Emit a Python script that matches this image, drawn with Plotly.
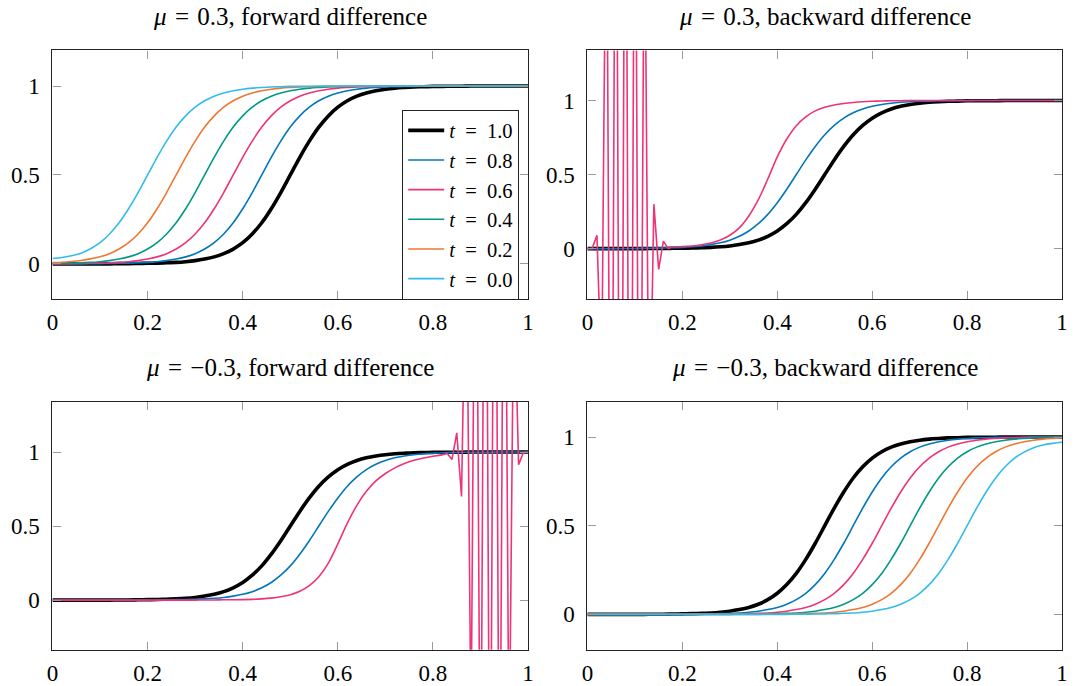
import plotly.graph_objects as go

# ---------------- data ----------------
x = [0.00, 0.02, 0.04, 0.06, 0.08, 0.10, 0.12, 0.14, 0.16, 0.18, 0.20, 0.22, 0.24, 0.26, 0.28,
     0.30, 0.32, 0.34, 0.36, 0.38, 0.40, 0.42, 0.44, 0.46, 0.48, 0.50, 0.52, 0.54, 0.56, 0.58,
     0.60, 0.62, 0.64, 0.66, 0.68, 0.70, 0.72, 0.74, 0.76, 0.78, 0.80, 0.82, 0.84, 0.86, 0.88,
     0.90, 0.92, 0.94, 0.96, 0.98, 1.00]

# mu = 0.3, forward difference
tl_t10 = [0, 0, 0, 0, 0, 0, 0, 0.001, 0.001, 0.002, 0.003, 0.004, 0.006, 0.008, 0.012, 0.018,
          0.027, 0.039, 0.057, 0.083, 0.119, 0.168, 0.231, 0.310, 0.401, 0.500, 0.599, 0.690,
          0.769, 0.832, 0.881, 0.917, 0.943, 0.961, 0.973, 0.982, 0.988, 0.992, 0.995, 0.996,
          0.998, 0.998, 0.999, 0.999, 1, 1, 1, 1, 1, 1, 1]
tl_t08 = [0, 0, 0, 0, 0.001, 0.001, 0.002, 0.003, 0.004, 0.006, 0.008, 0.012, 0.018, 0.027,
          0.039, 0.057, 0.083, 0.119, 0.168, 0.231, 0.310, 0.401, 0.500, 0.599, 0.690, 0.769,
          0.832, 0.881, 0.917, 0.943, 0.961, 0.973, 0.982, 0.988, 0.992, 0.995, 0.996, 0.998,
          0.998, 0.999, 0.999, 1, 1, 1, 1, 1, 1, 1, 1, 1, 1]
tl_t06 = [0, 0.001, 0.001, 0.002, 0.003, 0.004, 0.006, 0.008, 0.012, 0.018, 0.027, 0.039,
          0.057, 0.083, 0.119, 0.168, 0.231, 0.310, 0.401, 0.500, 0.599, 0.690, 0.769, 0.832,
          0.881, 0.917, 0.943, 0.961, 0.973, 0.982, 0.988, 0.992, 0.995, 0.996, 0.998, 0.998,
          0.999, 0.999, 1, 1, 1, 1, 1, 1, 1, 1, 1, 1, 1, 1, 1]
tl_t04 = [0.002, 0.003, 0.004, 0.006, 0.008, 0.012, 0.018, 0.027, 0.039, 0.057, 0.083, 0.119,
          0.168, 0.231, 0.310, 0.401, 0.500, 0.599, 0.690, 0.769, 0.832, 0.881, 0.917, 0.943,
          0.961, 0.973, 0.982, 0.988, 0.992, 0.995, 0.996, 0.998, 0.998, 0.999, 0.999,
          1, 1, 1, 1, 1, 1, 1, 1, 1, 1, 1, 1, 1, 1, 1, 1]
tl_t02 = [0.007, 0.009, 0.013, 0.019, 0.028, 0.040, 0.057, 0.083, 0.119, 0.168, 0.231, 0.310,
          0.401, 0.500, 0.599, 0.690, 0.769, 0.832, 0.881, 0.917, 0.943, 0.961, 0.973, 0.982,
          0.988, 0.992, 0.995, 0.996, 0.998, 0.998, 0.999, 0.999,
          1, 1, 1, 1, 1, 1, 1, 1, 1, 1, 1, 1, 1, 1, 1, 1, 1, 1, 1]
tl_t00 = [0.030, 0.036, 0.045, 0.060, 0.085, 0.119, 0.168, 0.231, 0.310, 0.401, 0.500, 0.599,
          0.690, 0.769, 0.832, 0.881, 0.917, 0.943, 0.961, 0.973, 0.982, 0.988, 0.992, 0.995,
          0.996, 0.998, 0.998, 0.999, 0.999,
          1, 1, 1, 1, 1, 1, 1, 1, 1, 1, 1, 1, 1, 1, 1, 1, 1, 1, 1, 1, 1, 1]

# mu = 0.3, backward difference
tr_t10 = tl_t10
tr_t08 = tl_t08
tr_t06_osc_x = [0.00, 0.01, 0.02, 0.03, 0.04, 0.05, 0.06, 0.07, 0.08, 0.09, 0.10, 0.11, 0.12,
                0.13, 0.14, 0.15, 0.16, 0.17, 0.18]
tr_t06_osc_y = [0.0, 0.0, 0.09, -0.9, 2.8, -3.2, 3.8, -4.0, 4.0, -4.0, 3.6, -3.2, 2.6,
                -1.5, 0.30, -0.14, 0.05, 0.0, 0.012]
tr_t06_x = [0.18, 0.20, 0.22, 0.24, 0.26, 0.28, 0.30, 0.32, 0.34, 0.36, 0.38, 0.40, 0.42, 0.44,
            0.46, 0.48, 0.50, 0.52, 0.54, 0.56, 0.58, 0.60, 0.62, 0.64, 0.66, 0.68, 0.70, 0.72,
            0.74, 0.76, 0.78, 0.80, 0.82, 0.84, 0.86, 0.88, 0.90, 0.92, 0.94, 0.96, 0.98, 1.00]
tr_t06_y = [0.012, 0.014, 0.018, 0.026, 0.038, 0.058, 0.090, 0.140, 0.220, 0.330, 0.470, 0.620,
            0.740, 0.830, 0.890, 0.930, 0.955, 0.970, 0.980, 0.987, 0.992, 0.995, 0.997, 0.998,
            0.999, 1, 1, 1, 1, 1, 1, 1, 1, 1, 1, 1, 1, 1, 1, 1, 1, 1]

# mu = -0.3, backward difference
br_t10 = tl_t10
br_t08 = [0, 0, 0, 0, 0, 0, 0, 0, 0, 0, 0.001, 0.001, 0.002, 0.003, 0.004, 0.006, 0.008, 0.012,
          0.018, 0.027, 0.039, 0.057, 0.083, 0.119, 0.168, 0.231, 0.310, 0.401, 0.500, 0.599,
          0.690, 0.769, 0.832, 0.881, 0.917, 0.943, 0.961, 0.973, 0.982, 0.988, 0.992, 0.995,
          0.996, 0.998, 0.998, 0.999, 0.999, 1, 1, 1, 1]
br_t06 = [0, 0, 0, 0, 0, 0, 0, 0, 0, 0, 0, 0, 0, 0.001, 0.001, 0.002, 0.003, 0.004, 0.006,
          0.008, 0.012, 0.018, 0.027, 0.039, 0.057, 0.083, 0.119, 0.168, 0.231, 0.310, 0.401,
          0.500, 0.599, 0.690, 0.769, 0.832, 0.881, 0.917, 0.943, 0.961, 0.973, 0.982, 0.988,
          0.992, 0.995, 0.996, 0.998, 0.998, 0.999, 0.999, 1]
br_t04 = [0, 0, 0, 0, 0, 0, 0, 0, 0, 0, 0, 0, 0, 0, 0, 0, 0.001, 0.001, 0.002, 0.003, 0.004,
          0.006, 0.008, 0.012, 0.018, 0.027, 0.039, 0.057, 0.083, 0.119, 0.168, 0.231, 0.310,
          0.401, 0.500, 0.599, 0.690, 0.769, 0.832, 0.881, 0.917, 0.943, 0.961, 0.973, 0.982,
          0.988, 0.992, 0.995, 0.996, 0.998, 0.998]
br_t02 = [0, 0, 0, 0, 0, 0, 0, 0, 0, 0, 0, 0, 0, 0, 0, 0, 0, 0, 0, 0.001, 0.001, 0.002, 0.003,
          0.004, 0.006, 0.008, 0.012, 0.018, 0.027, 0.039, 0.057, 0.083, 0.119, 0.168, 0.231,
          0.310, 0.401, 0.500, 0.599, 0.690, 0.769, 0.832, 0.881, 0.917, 0.943, 0.961, 0.973,
          0.982, 0.988, 0.992, 0.995]
br_t00 = [0, 0, 0, 0, 0, 0, 0, 0, 0, 0, 0, 0, 0, 0, 0, 0, 0, 0, 0, 0, 0, 0, 0.001, 0.001,
          0.002, 0.003, 0.004, 0.006, 0.008, 0.012, 0.018, 0.027, 0.039, 0.057, 0.083, 0.119,
          0.168, 0.231, 0.310, 0.401, 0.500, 0.599, 0.690, 0.769, 0.832, 0.881, 0.915, 0.940,
          0.955, 0.964, 0.970]

# mu = -0.3, forward difference
bl_t10 = tl_t10
bl_t08 = br_t08
bl_t06_x = [0.00, 0.02, 0.04, 0.06, 0.08, 0.10, 0.12, 0.14, 0.16, 0.18, 0.20, 0.22, 0.24, 0.26,
            0.28, 0.30, 0.32, 0.34, 0.36, 0.38, 0.40, 0.42, 0.44, 0.46, 0.48, 0.50, 0.52, 0.54,
            0.56, 0.58, 0.60, 0.62, 0.64, 0.66, 0.68, 0.70, 0.72, 0.74, 0.76, 0.78, 0.80, 0.82]
bl_t06_y = [0, 0, 0, 0, 0, 0, 0, 0, 0, 0, 0, 0, 0, 0, 0, 0, 0.001, 0.001, 0.002, 0.002, 0.003,
            0.005, 0.008, 0.013, 0.022, 0.036, 0.060, 0.098, 0.158, 0.250, 0.380, 0.520, 0.640,
            0.735, 0.805, 0.855, 0.893, 0.922, 0.944, 0.960, 0.972, 0.981]
bl_t06_osc_x = [0.82, 0.83, 0.84, 0.85, 0.86, 0.87, 0.88, 0.89, 0.90, 0.91, 0.92, 0.93, 0.94,
                0.95, 0.96, 0.97, 0.98, 0.99, 1.00]
bl_t06_osc_y = [0.981, 0.990, 0.950, 1.130, 0.700, 2.6, -0.9, 3.6, -1.8, 4.2, -2.2, 4.2, -2.0,
                3.8, -1.2, 2.2, 0.915, 0.995, 1.0]

labels = ["1.0", "0.8", "0.6", "0.4", "0.2", "0.0"]
colors = ["#000000", "#0077BB", "#EE3377", "#009988", "#EE7733", "#33BBEE"]
widths = [3.6, 1.6, 1.6, 1.6, 1.6, 1.6]

SP = "\u2004"  # math-like spacing around '='
titles = ["<i>μ</i>" + SP + "=" + SP + "0.3, forward difference",
          "<i>μ</i>" + SP + "=" + SP + "0.3, backward difference",
          "<i>μ</i>" + SP + "=" + SP + "−0.3, forward difference",
          "<i>μ</i>" + SP + "=" + SP + "−0.3, backward difference"]

FONT = "Liberation Serif"
W, H = 1075, 686

# ---------------- figure ----------------
fig = go.Figure()


def line(xs, ys, i, ax, shape="spline", legend=False):
    fig.add_trace(go.Scatter(
        x=xs, y=ys, mode="lines", xaxis="x" + ax, yaxis="y" + ax,
        line=dict(color=colors[i], width=widths[i], shape=shape),
        name="<i>t</i>\u2002=\u2002" + labels[i], showlegend=legend, hoverinfo="skip"))


# top left
for i, ys in enumerate([tl_t10, tl_t08, tl_t06, tl_t04, tl_t02, tl_t00]):
    line(x, ys, i, "", legend=True)
# top right
line(x, tr_t10, 0, "2")
line(x, tr_t08, 1, "2")
line(tr_t06_x, tr_t06_y, 2, "2")
line(tr_t06_osc_x, tr_t06_osc_y, 2, "2", shape="linear")
# bottom left
line(x, bl_t10, 0, "3")
line(x, bl_t08, 1, "3")
line(bl_t06_x, bl_t06_y, 2, "3")
line(bl_t06_osc_x, bl_t06_osc_y, 2, "3", shape="linear")
# bottom right
for i, ys in enumerate([br_t10, br_t08, br_t06, br_t04, br_t02, br_t00]):
    line(x, ys, i, "4")

# panel boxes in pixels
boxes = {"": (47, 528, 50.7, 300.7), "2": (588, 1068, 50.7, 300.7),
         "3": (47, 528, 403.3, 652.7), "4": (588, 1068, 403.3, 652.7)}
yranges = {"": [-0.2, 1.2], "2": [-0.343, 1.338], "3": [-0.336, 1.341], "4": [-0.2, 1.2]}

common = dict(showline=True, linecolor="#222222", linewidth=1.2, mirror="allticks",
              ticks="inside", ticklen=8, tickwidth=1, tickcolor="#9a9a9a",
              showgrid=False, zeroline=False,
              tickfont=dict(family=FONT, size=23, color="black"))

layout = {}
for ax, (x0, x1, y0, y1) in boxes.items():
    layout["xaxis" + ax] = dict(common, domain=[x0 / W, x1 / W], range=[0, 1],
                                tickvals=[0, 0.2, 0.4, 0.6, 0.8, 1],
                                ticktext=["0", "0.2", "0.4", "0.6", "0.8", "1"],
                                anchor="y" + ax, ticklabelstandoff=2)
    layout["yaxis" + ax] = dict(common, domain=[1 - y1 / H, 1 - y0 / H], range=yranges[ax],
                                tickvals=[0, 0.5, 1], ticktext=["0", "0.5", "1"],
                                anchor="x" + ax, ticklabelstandoff=7)
fig.update_layout(**layout)

ann = []
for (ax, (x0, x1, y0, y1)), t in zip(boxes.items(), titles):
    ann.append(dict(text=t, x=(x0 + x1) / 2 / W, y=1 - (y0 - 34) / H, xref="paper",
                    yref="paper", xanchor="center", yanchor="middle", showarrow=False,
                    font=dict(family=FONT, size=25, color="black")))

fig.update_layout(
    width=W, height=H, margin=dict(l=0, r=0, t=0, b=0),
    paper_bgcolor="white", plot_bgcolor="white",
    annotations=ann,
    legend=dict(x=519 / W, y=1 - 110 / H, xanchor="right", yanchor="top",
                bgcolor="white", bordercolor="#222222", borderwidth=1,
                font=dict(family=FONT, size=20.5, color="black"),
                tracegroupgap=0, itemwidth=36),
)

fig.write_html("out.html")
